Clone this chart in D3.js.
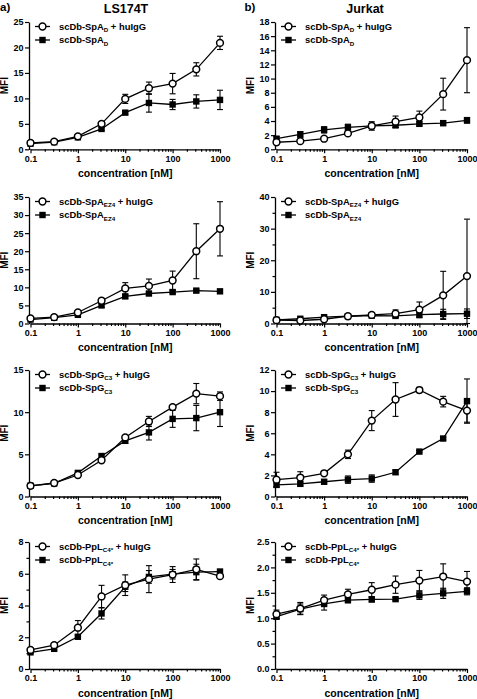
<!DOCTYPE html>
<html><head><meta charset="utf-8">
<script src="https://cdn.jsdelivr.net/npm/d3@7"></script>
<style>
body{margin:0;background:#fff;}
svg{display:block;font-family:"Liberation Sans",Arial,sans-serif;font-weight:bold;}
</style></head>
<body><svg id="c" width="477" height="699"></svg>
<script>
// ---- data ----
const conc = [0.1, 0.316, 1, 3.16, 10, 31.6, 100, 316, 1000];
const xTickValues = [0.1, 1, 10, 100, 1000];
const xTickLabels = ["0.1", "1", "10", "100", "1000"];

// LS174T SpA_D
const a1Open = [1.25, 1.5, 2.55, 5.0, 9.9, 12.0, 12.9, 15.7, 20.9];
const a1OpenErr = [0.15, 0.2, 0.3, 0.4, 0.9, 1.2, 2.0, 1.3, 1.3];
const a1Fill = [1.1, 1.4, 2.35, 4.0, 7.2, 9.1, 8.8, 9.4, 9.7];
const a1FillErr = [0.1, 0.15, 0.2, 0.3, 0.3, 1.8, 1.0, 1.3, 1.9];
// Jurkat SpA_D
const b1Open = [1.0, 1.15, 1.5, 2.25, 3.3, 3.9, 4.5, 7.8, 12.6];
const b1OpenErr = [0.2, 0.2, 0.2, 0.3, 0.6, 0.8, 0.9, 2.25, 4.6];
const b1Fill = [1.5, 2.1, 2.75, 3.1, 3.3, 3.4, 3.6, 3.7, 4.1];
const b1FillErr = [0.3, 0.4, 0.45, 0.45, 0.35, 0.35, 0.3, 0.35, 0.4];
// LS174T SpA_EZ4
const a2Open = [1.4, 1.75, 3.05, 6.3, 9.7, 10.4, 11.9, 20.0, 26.2];
const a2OpenErr = [0.3, 0.3, 0.4, 0.7, 1.6, 1.9, 2.6, 7.6, 7.5];
const a2Fill = [1.1, 1.6, 2.4, 5.0, 7.5, 8.3, 8.7, 9.1, 8.9];
const a2FillErr = [0.2, 0.2, 0.3, 0.5, 0.5, 0.4, 0.4, 0.4, 0.3];
// Jurkat SpA_EZ4
const b2Open = [1.05, 0.95, 1.35, 2.3, 2.7, 3.1, 4.4, 8.9, 15.0];
const b2OpenErr = [0.3, 0.3, 0.4, 0.4, 0.6, 1.2, 2.4, 7.6, 18.0];
const b2Fill = [1.15, 1.5, 2.0, 2.3, 2.5, 2.4, 2.8, 3.0, 3.1];
const b2FillErr = [0.2, 0.3, 0.3, 0.3, 0.3, 0.4, 1.0, 1.5, 1.5];
// LS174T SpG_C3
const a3Open = [1.27, 1.6, 2.55, 4.3, 7.0, 8.9, 10.6, 12.2, 11.9];
const a3OpenErr = [0.1, 0.1, 0.2, 0.2, 0.2, 0.6, 0.2, 1.2, 0.5];
const a3Fill = [1.27, 1.55, 2.8, 4.8, 6.6, 7.6, 9.2, 9.3, 10.0];
const a3FillErr = [0.1, 0.1, 0.2, 0.2, 0.3, 0.9, 1.0, 1.5, 1.7];
// Jurkat SpG_C3
const b3Open = [1.6, 1.8, 2.2, 4.0, 7.2, 9.2, 10.1, 9.0, 8.15];
const b3OpenErr = [0.7, 0.55, 0.2, 0.4, 0.95, 1.6, 0.25, 0.5, 1.1];
const b3Fill = [1.1, 1.2, 1.4, 1.6, 1.7, 2.3, 4.26, 5.5, 9.05];
const b3FillErr = [0.2, 0.2, 0.2, 0.35, 0.35, 0.2, 0.1, 0.15, 2.1];
// LS174T PpL_C4*
const a4Open = [1.2, 1.5, 2.6, 4.57, 5.28, 5.66, 5.95, 6.28, 5.85];
const a4OpenErr = [0.1, 0.1, 0.45, 0.7, 0.65, 0.85, 0.5, 0.65, 0.15];
const a4Fill = [1.05, 1.27, 2.03, 3.5, 5.18, 5.8, 5.97, 6.1, 6.14];
const a4FillErr = [0.05, 0.08, 0.1, 0.35, 0.3, 0.4, 0.3, 0.5, 0.1];
// Jurkat PpL_C4*
const b4Open = [1.08, 1.19, 1.355, 1.47, 1.56, 1.66, 1.74, 1.82, 1.72];
const b4OpenErr = [0.08, 0.12, 0.1, 0.1, 0.14, 0.17, 0.2, 0.25, 0.2];
const b4Fill = [1.03, 1.18, 1.28, 1.355, 1.37, 1.375, 1.45, 1.49, 1.53];
const b4FillErr = [0.05, 0.1, 0.12, 0.05, 0.05, 0.03, 0.08, 0.1, 0.07];

// y tick values
const a1YTicks = [0, 5, 10, 15, 20, 25];
const b1YTicks = [0, 2, 4, 6, 8, 10, 12, 14, 16, 18];
const a2YTicks = [0, 5, 10, 15, 20, 25, 30, 35];
const b2YTicks = [0, 10, 20, 30, 40];
const b2YMinor = [5, 15, 25, 35];
const a3YTicks = [0, 5, 10, 15];
const b3YTicks = [0, 2, 4, 6, 8, 10, 12];
const a4YTicks = [0, 2, 4, 6, 8];
const a4YMinor = [1, 3, 5, 7];
const b4YTicks = [0, 0.5, 1.0, 1.5, 2.0, 2.5];
const b4YMinor = [0.25, 0.75, 1.25, 1.75, 2.25];

// legend names: [base, subscript]
const nameSpAD = ["scDb-SpA", "D"];
const nameSpAEZ4 = ["scDb-SpA", "EZ4"];
const nameSpGC3 = ["scDb-SpG", "C3"];
const namePpLC4 = ["scDb-PpL", "C4*"];

const columnTitles = ["LS174T", "Jurkat"];
const columnLetters = ["a)", "b)"];
const xTitle = "concentration [nM]";
const yTitle = "MFI";

// ---- layout ----
const colX = [{ax: 29, x0: 30.5, x1: 220}, {ax: 275, x0: 276.5, x1: 467}];
const rowY = [{top: 22, bot: 149.3}, {top: 197, bot: 323.5}, {top: 370, bot: 496.5}, {top: 542, bot: 669}];

const panels = [
  {c:0, r:0, open:a1Open, openErr:a1OpenErr, fill:a1Fill, fillErr:a1FillErr, yt:a1YTicks, ym:[], fmt:d=>d, name:nameSpAD},
  {c:1, r:0, open:b1Open, openErr:b1OpenErr, fill:b1Fill, fillErr:b1FillErr, yt:b1YTicks, ym:[], fmt:d=>d, name:nameSpAD},
  {c:0, r:1, open:a2Open, openErr:a2OpenErr, fill:a2Fill, fillErr:a2FillErr, yt:a2YTicks, ym:[], fmt:d=>d, name:nameSpAEZ4},
  {c:1, r:1, open:b2Open, openErr:b2OpenErr, fill:b2Fill, fillErr:b2FillErr, yt:b2YTicks, ym:b2YMinor, fmt:d=>d, name:nameSpAEZ4},
  {c:0, r:2, open:a3Open, openErr:a3OpenErr, fill:a3Fill, fillErr:a3FillErr, yt:a3YTicks, ym:[], fmt:d=>d, name:nameSpGC3},
  {c:1, r:2, open:b3Open, openErr:b3OpenErr, fill:b3Fill, fillErr:b3FillErr, yt:b3YTicks, ym:[], fmt:d=>d, name:nameSpGC3},
  {c:0, r:3, open:a4Open, openErr:a4OpenErr, fill:a4Fill, fillErr:a4FillErr, yt:a4YTicks, ym:a4YMinor, fmt:d=>d, name:namePpLC4},
  {c:1, r:3, open:b4Open, openErr:b4OpenErr, fill:b4Fill, fillErr:b4FillErr, yt:b4YTicks, ym:b4YMinor, fmt:d3.format(".1f"), name:namePpLC4},
];

const svg = d3.select("#c");
const minorX = [];
for (let e = -1; e <= 2; e++) for (let k = 2; k <= 9; k++) minorX.push(k * Math.pow(10, e));

// column headers
columnTitles.forEach((t, i) => {
  svg.append("text").attr("x", i === 0 ? 126 : 365).attr("y", 13).attr("text-anchor", "middle")
    .attr("font-size", 12.5).text(t);
  svg.append("text").attr("x", i === 0 ? 0 : 244.5).attr("y", 11).attr("font-size", 11.5).text(columnLetters[i]);
});

function styleAxis(g) {
  g.selectAll("path.domain").attr("stroke", "#000").attr("stroke-width", 1.3);
  g.selectAll(".tick line").attr("stroke", "#000").attr("stroke-width", 1.2);
  g.selectAll(".tick text").attr("font-family", "Liberation Sans, Arial, sans-serif").attr("font-weight", "bold").attr("font-size", 9).attr("fill", "#000");
}

panels.forEach(p => {
  const C = colX[p.c], R = rowY[p.r];
  const ymax = p.yt[p.yt.length - 1];
  const x = d3.scaleLog().domain([0.1, 1000]).range([C.x0, C.x1]);
  const y = d3.scaleLinear().domain([0, ymax]).range([R.bot, R.top]);
  const g = svg.append("g");

  // axes
  const xg = g.append("g").attr("transform", `translate(0,${R.bot})`)
    .call(d3.axisBottom(x).tickValues(xTickValues).tickFormat((d, i) => xTickLabels[i]).tickSize(4).tickSizeOuter(0).tickPadding(2));
  styleAxis(xg);
  const xgm = g.append("g").attr("transform", `translate(0,${R.bot})`)
    .call(d3.axisBottom(x).tickValues(minorX).tickFormat("").tickSize(2.5).tickSizeOuter(0));
  styleAxis(xgm);
  xgm.select("path.domain").remove();

  const yg = g.append("g").attr("transform", `translate(${C.ax},0)`)
    .call(d3.axisLeft(y).tickValues(p.yt).tickFormat(p.fmt).tickSize(4).tickSizeOuter(0).tickPadding(1.5));
  styleAxis(yg);
  if (p.ym.length) {
    const ygm = g.append("g").attr("transform", `translate(${C.ax},0)`)
      .call(d3.axisLeft(y).tickValues(p.ym).tickFormat("").tickSize(2.5).tickSizeOuter(0));
    styleAxis(ygm);
    ygm.select("path.domain").remove();
  }
  g.append("line").attr("x1", C.ax).attr("x2", C.x0).attr("y1", R.bot).attr("y2", R.bot).attr("stroke", "#000").attr("stroke-width", 1.3);

  // titles
  g.append("text").attr("x", (C.x0 + C.x1) / 2).attr("y", R.bot + 27.5).attr("text-anchor", "middle")
    .attr("font-size", 10.5).text(xTitle);
  g.append("text").attr("transform", `translate(${C.ax - 21},${(R.top + R.bot) / 2}) rotate(-90)`)
    .attr("text-anchor", "middle").attr("font-size", 10).text(yTitle);

  const series = [
    {v: p.fill, e: p.fillErr, open: false},
    {v: p.open, e: p.openErr, open: true},
  ];
  const line = d3.line().x((d, i) => x(conc[i])).y(d => y(d));
  series.forEach(s => {
    g.append("path").attr("d", line(s.v)).attr("fill", "none").attr("stroke", "#000").attr("stroke-width", 1.3);
  });
  series.forEach(s => {
    const eg = g.append("g").attr("stroke", "#000").attr("stroke-width", 1.1);
    s.v.forEach((v, i) => {
      const cx = x(conc[i]);
      const lo = y(Math.max(0, v - s.e[i])), hi = y(v + s.e[i]);
      eg.append("line").attr("x1", cx).attr("x2", cx).attr("y1", lo).attr("y2", hi);
      eg.append("line").attr("x1", cx - 3).attr("x2", cx + 3).attr("y1", lo).attr("y2", lo);
      eg.append("line").attr("x1", cx - 3).attr("x2", cx + 3).attr("y1", hi).attr("y2", hi);
    });
  });
  series.forEach(s => {
    s.v.forEach((v, i) => {
      const cx = x(conc[i]), cy = y(v);
      if (s.open) g.append("circle").attr("cx", cx).attr("cy", cy).attr("r", 3.4).attr("fill", "#fff").attr("stroke", "#000").attr("stroke-width", 1.5);
      else g.append("rect").attr("x", cx - 3.2).attr("y", cy - 3.2).attr("width", 6.4).attr("height", 6.4).attr("fill", "#000");
    });
  });

  // legend
  const lx = C.ax + 6;
  [{open: true, dy: 4.5}, {open: false, dy: 18}].forEach(L => {
    const ly = R.top + L.dy;
    g.append("line").attr("x1", lx).attr("x2", lx + 15).attr("y1", ly).attr("y2", ly).attr("stroke", "#000").attr("stroke-width", 1.3);
    if (L.open) g.append("circle").attr("cx", lx + 7.5).attr("cy", ly).attr("r", 3.4).attr("fill", "#fff").attr("stroke", "#000").attr("stroke-width", 1.5);
    else g.append("rect").attr("x", lx + 4.3).attr("y", ly - 3.2).attr("width", 6.4).attr("height", 6.4).attr("fill", "#000");
    const t = g.append("text").attr("x", lx + 24).attr("y", ly + 3.4).attr("font-size", 9.4);
    t.append("tspan").text(p.name[0]);
    t.append("tspan").attr("font-size", 6.2).attr("dy", 2.5).text(p.name[1]);
    if (L.open) t.append("tspan").attr("dy", -2.5).text(" + huIgG");
  });
});
</script></body></html>
